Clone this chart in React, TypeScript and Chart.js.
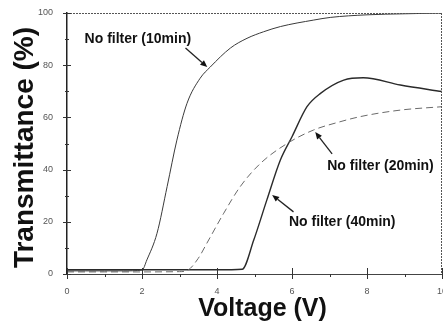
import React, { useEffect, useRef } from "react";
import { Chart, registerables } from "chart.js";

Chart.register(...registerables);

// Voltage (V) / Transmittance (%) samples
const V_10 = [0, 0.5, 1, 1.5, 2.0, 2.13, 2.4, 2.67, 2.93, 3.2, 3.55, 3.82, 4.36, 4.8, 5.24, 5.69, 6.58, 7.02, 8.0, 9.0, 10];
const T_10 = [1.2, 1.2, 1.2, 1.2, 1.5, 5.4, 15.6, 33.5, 51.3, 65.4, 75.0, 79.3, 86.6, 90.3, 92.8, 94.8, 97.3, 98.3, 99.3, 99.7, 100];

const V_20 = [0, 1, 2, 3, 3.2, 3.5, 3.73, 4.18, 4.62, 5.16, 5.87, 6.58, 7.2, 7.82, 8.89, 10];
const T_20 = [0.8, 0.8, 0.8, 0.9, 1.3, 6.0, 11.8, 23.3, 33.5, 42.4, 50.0, 55.2, 58.0, 60.3, 62.8, 64.1];

const V_40 = [0, 1, 2, 3, 4, 4.67, 4.98, 5.33, 5.69, 6.0, 6.4, 6.76, 7.38, 7.9, 8.89, 10];
const T_40 = [1.6, 1.6, 1.6, 1.6, 1.6, 1.8, 13.0, 28.4, 43.7, 52.6, 64.1, 69.2, 74.3, 75.2, 72.4, 69.9];

const SERIES_NAMES = ["No filter (10min)", "No filter (20min)", "No filter (40min)"];

const X_MIN = 0;
const X_MAX = 10;
const Y_MIN = 0;
const Y_MAX = 100;
const X_LABELED = [0, 2, 4, 6, 8, 10];
const Y_LABELED = [0, 20, 40, 60, 80, 100];

const X_TITLE = "Voltage (V)";
const Y_TITLE = "Transmittance (%)";

// annotation anchors, in data units: label centre, arrow tail, arrow head
const LABEL_X = [1.89, 8.36, 7.34];
const LABEL_Y = [90.0, 41.4, 19.9];
const ARROW_FROM_X = [3.16, 7.07, 6.04];
const ARROW_FROM_Y = [86.6, 46.0, 23.8];
const ARROW_TO_X = [3.74, 6.62, 5.47];
const ARROW_TO_Y = [79.3, 54.4, 30.3];

const toPoints = (xs: number[], ys: number[]) => xs.map((x, i) => ({ x, y: ys[i] }));

const decorPlugin = {
  id: "decor",
  afterDraw(chart: any) {
    const { ctx, chartArea } = chart;
    const xs = chart.scales.x;
    const ys = chart.scales.y;
    const { left, right, top, bottom } = chartArea;
    ctx.save();

    // frame: dotted top and right
    ctx.strokeStyle = "#555";
    ctx.lineWidth = 1;
    ctx.setLineDash([2, 1]);
    ctx.beginPath();
    ctx.moveTo(left, top + 0.5);
    ctx.lineTo(right, top + 0.5);
    ctx.moveTo(right - 0.5, top);
    ctx.lineTo(right - 0.5, bottom);
    ctx.stroke();
    ctx.setLineDash([]);

    // ticks across the axes
    ctx.strokeStyle = "#333";
    ctx.lineWidth = 1;
    ctx.beginPath();
    for (let v = Y_MIN; v <= Y_MAX; v += 10) {
      const y = Math.round(ys.getPixelForValue(v)) + 0.5;
      const major = Y_LABELED.includes(v);
      ctx.moveTo(left - (major ? 4 : 2), y);
      ctx.lineTo(left + (major ? 4 : 2), y);
    }
    for (let v = X_MIN; v <= X_MAX; v += 1) {
      const x = Math.round(xs.getPixelForValue(v)) + 0.5;
      const major = X_LABELED.includes(v);
      ctx.moveTo(x, bottom - (major ? 6 : 0));
      ctx.lineTo(x, bottom + (major ? 5 : 3));
    }
    ctx.stroke();

    // axis titles
    ctx.fillStyle = "#111";
    ctx.font = "bold 25px 'Liberation Sans', Arial, sans-serif";
    ctx.textAlign = "center";
    ctx.textBaseline = "middle";
    ctx.fillText(X_TITLE, (left + right) / 2 + 8, bottom + 35);
    ctx.save();
    ctx.translate(left - 42, (top + bottom) / 2 + 4);
    ctx.rotate(-Math.PI / 2);
    ctx.font = "bold 28px 'Liberation Sans', Arial, sans-serif";
    ctx.fillText(Y_TITLE, 0, 0);
    ctx.restore();

    // annotations
    ctx.font = "bold 14px 'Liberation Sans', Arial, sans-serif";
    for (let i = 0; i < SERIES_NAMES.length; i++) {
      ctx.fillStyle = "#111";
      ctx.fillText(SERIES_NAMES[i], xs.getPixelForValue(LABEL_X[i]), ys.getPixelForValue(LABEL_Y[i]));
      const x1 = xs.getPixelForValue(ARROW_FROM_X[i]);
      const y1 = ys.getPixelForValue(ARROW_FROM_Y[i]);
      const x2 = xs.getPixelForValue(ARROW_TO_X[i]);
      const y2 = ys.getPixelForValue(ARROW_TO_Y[i]);
      const ang = Math.atan2(y2 - y1, x2 - x1);
      const hl = 7;
      const hw = 3;
      const bx = x2 - hl * Math.cos(ang);
      const by = y2 - hl * Math.sin(ang);
      ctx.strokeStyle = "#222";
      ctx.lineWidth = 1.3;
      ctx.beginPath();
      ctx.moveTo(x1, y1);
      ctx.lineTo(bx, by);
      ctx.stroke();
      ctx.beginPath();
      ctx.moveTo(x2, y2);
      ctx.lineTo(bx + hw * Math.sin(ang), by - hw * Math.cos(ang));
      ctx.lineTo(bx - hw * Math.sin(ang), by + hw * Math.cos(ang));
      ctx.closePath();
      ctx.fill();
    }
    ctx.restore();
  },
};

export default function App() {
  const canvasRef = useRef<HTMLCanvasElement | null>(null);

  useEffect(() => {
    if (!canvasRef.current) return;
    const tickFont = { family: "'Liberation Sans', Arial, sans-serif", size: 9 };
    const chart = new Chart(canvasRef.current, {
      type: "line",
      data: {
        datasets: [
          {
            label: SERIES_NAMES[0],
            data: toPoints(V_10, T_10),
            borderColor: "#3a3a3a",
            borderWidth: 1,
            pointRadius: 0,
            cubicInterpolationMode: "monotone",
          },
          {
            label: SERIES_NAMES[1],
            data: toPoints(V_20, T_20),
            borderColor: "#6a6a6a",
            borderWidth: 1,
            borderDash: [7, 4],
            pointRadius: 0,
            cubicInterpolationMode: "monotone",
          },
          {
            label: SERIES_NAMES[2],
            data: toPoints(V_40, T_40),
            borderColor: "#2a2a2a",
            borderWidth: 1.4,
            pointRadius: 0,
            cubicInterpolationMode: "monotone",
          },
        ],
      },
      options: {
        responsive: false,
        animation: false,
        layout: { padding: { top: 13, right: 1, left: 0, bottom: 0 } },
        plugins: { legend: { display: false }, tooltip: { enabled: false } },
        scales: {
          x: {
            type: "linear",
            min: X_MIN,
            max: X_MAX,
            grid: { display: false },
            border: { display: true, color: "#444", width: 1, dash: [2, 1] },
            ticks: {
              stepSize: 2,
              padding: 4,
              color: "#555",
              font: tickFont,
              maxRotation: 0,
              autoSkip: false,
              callback: (v: any) => (X_LABELED.includes(Number(v)) ? String(v) : ""),
            },
            afterFit: (s: any) => {
              s.height = 50;
              s.paddingLeft = 0;
              s.paddingRight = 0;
            },
          },
          y: {
            type: "linear",
            min: Y_MIN,
            max: Y_MAX,
            grid: { display: false },
            border: { display: true, color: "#222", width: 1.5 },
            ticks: {
              stepSize: 20,
              padding: 6,
              color: "#555",
              font: tickFont,
              autoSkip: false,
              callback: (v: any) => (Y_LABELED.includes(Number(v)) ? String(v) : ""),
            },
            afterFit: (s: any) => {
              s.width = 67;
              s.paddingTop = 0;
              s.paddingBottom = 0;
            },
          },
        },
      },
      plugins: [decorPlugin],
    } as any);
    return () => chart.destroy();
  }, []);

  return (
    <div style={{ position: "absolute", left: 0, top: 0, width: 443, height: 324, background: "#fff" }}>
      <canvas ref={canvasRef} width={443} height={324} />
    </div>
  );
}
